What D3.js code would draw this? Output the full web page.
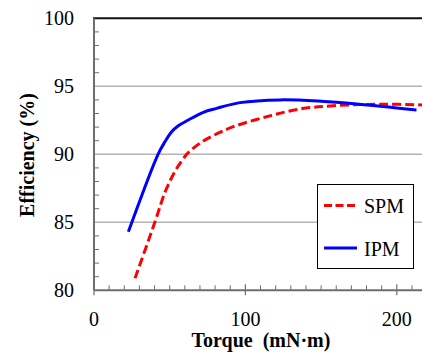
<!DOCTYPE html>
<html>
<head>
<meta charset="utf-8">
<script src="https://cdn.jsdelivr.net/npm/d3@7"></script>
<style>
  body { margin: 0; background: #fff; }
  svg { display: block; }
  text { font-family: "Liberation Serif", "Times New Roman", serif; }
</style>
</head>
<body>
<svg id="chart" width="422" height="352"></svg>
<script>
// values
const spmTorque = [27.1, 40.3, 47.2, 53.5, 57.9, 61.2, 64.5, 72.2, 82, 92, 114, 136, 158, 191, 217];
const spmEff = [80.88, 85.04, 87.3, 88.75, 89.5, 90.0, 90.35, 90.98, 91.55, 92.03, 92.76, 93.33, 93.57, 93.68, 93.63];
const ipmTorque = [22.7, 42.3, 46.9, 51.3, 55.7, 62.3, 72.2, 81, 96.4, 123, 150, 173.5, 213];
const ipmEff = [84.3, 90.0, 90.93, 91.66, 92.1, 92.52, 93.09, 93.38, 93.8, 94.0, 93.9, 93.7, 93.26];
const xTicks = [0, 100, 200];
const yTicks = [80, 85, 90, 95, 100];
const seriesNames = ['SPM', 'IPM'];

const svg = d3.select('#chart');
const plotLeft = 94, plotRight = 422, plotTop = 18.3, plotBottom = 290.3;

const x = d3.scaleLinear().domain([0, 200]).range([plotLeft, 396.8]);
const y = d3.scaleLinear().domain([80, 100]).range([plotBottom, plotTop]);
const xMax = x.invert(plotRight);

// grid
svg.append('g')
  .selectAll('line')
  .data([85, 90, 95])
  .enter()
  .append('line')
  .attr('x1', plotLeft).attr('x2', plotRight)
  .attr('y1', d => y(d)).attr('y2', d => y(d))
  .attr('stroke', '#b4b4b4').attr('stroke-width', 1.5);

svg.append('line')
  .attr('x1', plotLeft - 1).attr('x2', plotRight)
  .attr('y1', y(100)).attr('y2', y(100))
  .attr('stroke', '#111').attr('stroke-width', 2);

// minor ticks
const axisCol = '#6e6e6e';
svg.append('g')
  .selectAll('line')
  .data(d3.range(81, 100).filter(d => d % 5 !== 0))
  .enter()
  .append('line')
  .attr('x1', plotLeft).attr('x2', plotLeft + 5)
  .attr('y1', d => y(d)).attr('y2', d => y(d))
  .attr('stroke', axisCol).attr('stroke-width', 1);

svg.append('g')
  .selectAll('line')
  .data(d3.range(10, xMax, 10).filter(d => d % 100 !== 0))
  .enter()
  .append('line')
  .attr('x1', d => x(d)).attr('x2', d => x(d))
  .attr('y1', plotBottom).attr('y2', plotBottom - 5)
  .attr('stroke', axisCol).attr('stroke-width', 1);

svg.append('g')
  .selectAll('line')
  .data(xTicks)
  .enter()
  .append('line')
  .attr('x1', d => x(d)).attr('x2', d => x(d))
  .attr('y1', plotBottom - 6).attr('y2', plotBottom + 5)
  .attr('stroke', axisCol).attr('stroke-width', 1.2);

// axis lines
svg.append('line')
  .attr('x1', plotLeft).attr('x2', plotLeft)
  .attr('y1', plotTop).attr('y2', plotBottom)
  .attr('stroke', axisCol).attr('stroke-width', 2);
svg.append('line')
  .attr('x1', plotLeft).attr('x2', plotRight)
  .attr('y1', plotBottom).attr('y2', plotBottom)
  .attr('stroke', axisCol).attr('stroke-width', 2);

// tick labels
svg.append('g')
  .selectAll('text')
  .data(yTicks)
  .enter()
  .append('text')
  .text(d => d)
  .attr('x', 74)
  .attr('y', d => y(d) + 7)
  .attr('text-anchor', 'end')
  .attr('font-size', 20);

svg.append('g')
  .selectAll('text')
  .data(xTicks)
  .enter()
  .append('text')
  .text(d => d)
  .attr('x', d => x(d))
  .attr('y', 326)
  .attr('text-anchor', 'middle')
  .attr('font-size', 20);

// axis titles
svg.append('text')
  .text('Torque\u00a0\u00a0(mN\u00b7m)')
  .attr('x', 261).attr('y', 346.5)
  .attr('text-anchor', 'middle')
  .attr('font-size', 20).attr('font-weight', 'bold');

svg.append('text')
  .text('Efficiency (%)')
  .attr('transform', 'translate(34,155) rotate(-90)')
  .attr('text-anchor', 'middle')
  .attr('font-size', 20).attr('font-weight', 'bold');

// curves
const line = d3.line()
  .x(d => x(d[0]))
  .y(d => y(d[1]))
  .curve(d3.curveCatmullRom.alpha(0.5));

svg.append('clipPath').attr('id', 'clip')
  .append('rect').attr('x', plotLeft).attr('y', 0).attr('width', plotRight - plotLeft).attr('height', plotBottom);

const plot = svg.append('g').attr('clip-path', 'url(#clip)');

plot.append('path')
  .datum(d3.zip(spmTorque, spmEff))
  .attr('d', line)
  .attr('fill', 'none')
  .attr('stroke', '#ff0000')
  .attr('stroke-width', 3)
  .attr('stroke-dasharray', '9,4');

plot.append('path')
  .datum(d3.zip(ipmTorque, ipmEff))
  .attr('d', line)
  .attr('fill', 'none')
  .attr('stroke', '#0000ff')
  .attr('stroke-width', 3);

// legend
const legend = svg.append('g');
legend.append('rect')
  .attr('x', 317.5).attr('y', 184.5)
  .attr('width', 96).attr('height', 84)
  .attr('fill', '#fff').attr('stroke', '#000').attr('stroke-width', 1);

const legendRows = legend.selectAll('g.row')
  .data(seriesNames)
  .enter()
  .append('g')
  .attr('class', 'row')
  .attr('transform', (d, i) => 'translate(0,' + (205.5 + i * 42.5) + ')');

legendRows.append('line')
  .attr('x1', 324).attr('x2', 357)
  .attr('y1', 0).attr('y2', 0)
  .attr('stroke', d => d === 'SPM' ? '#ff0000' : '#0000ff')
  .attr('stroke-width', 3)
  .attr('stroke-dasharray', d => d === 'SPM' ? '8,3.5' : null);

legendRows.append('text')
  .text(d => d)
  .attr('x', 364).attr('y', 7.5)
  .attr('font-size', 20);
</script>
</body>
</html>
